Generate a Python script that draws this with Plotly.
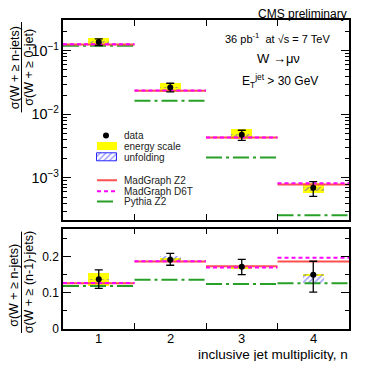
import plotly.graph_objects as go
from plotly.subplots import make_subplots

# inclusive jet multiplicity bins
n_jets = [1, 2, 3, 4]
bin_edges = [1.5, 2.5, 3.5]
x_labels = ["1", "2", "3", "4"]

# sigma(W + >= n jets) / sigma(W + >= 0 jet)
ratio0_data = [0.137, 0.0264, 0.00475, 0.00070]
ratio0_err_up = [0.017, 0.0044, 0.00087, 0.000175]
ratio0_err_dn = [0.016, 0.0038, 0.00087, 0.00019]
ratio0_escale_lo = [0.123, 0.0228, 0.00407, 0.000577]
ratio0_escale_hi = [0.156, 0.0308, 0.00583, 0.000826]
ratio0_unfold_lo = [0.134, 0.0258, 0.00442, 0.000626]
ratio0_unfold_hi = [0.140, 0.0270, 0.00499, 0.000732]
ratio0_mg_z2 = [0.125, 0.0235, 0.00433, 0.000787]
ratio0_mg_d6t = [0.127, 0.0237, 0.00430, 0.000826]
ratio0_pythia_z2 = [0.120, 0.0164, 0.00210, 0.000258]

# sigma(W + >= n jets) / sigma(W + >= (n-1) jets)
ratio1_data = [0.137, 0.191, 0.172, 0.150]
ratio1_err_up = [0.026, 0.018, 0.020, 0.037]
ratio1_err_dn = [0.025, 0.015, 0.022, 0.048]
ratio1_escale_lo = [0.119, 0.187, 0.167, 0.147]
ratio1_escale_hi = [0.155, 0.197, 0.176, 0.153]
ratio1_unfold_lo = [0.135, 0.190, 0.169, 0.128]
ratio1_unfold_hi = [0.139, 0.202, 0.178, 0.152]
ratio1_mg_z2 = [0.126, 0.186, 0.173, 0.186]
ratio1_mg_d6t = [0.127, 0.187, 0.170, 0.197]
ratio1_pythia_z2 = [0.119, 0.136, 0.124, 0.126]

FONT = "Liberation Sans, Arial, Helvetica, sans-serif"
RED = "rgb(255,80,80)"
MAGENTA = "rgb(255,0,255)"
GREEN = "rgb(40,160,40)"
YELLOW = "rgb(255,255,0)"
BLUE = "rgb(40,40,255)"
PYTHIA_DASH = "16px,4px,3px,4px"
D6T_DASH = "4px,3px"

# the page body has an 8px margin, so the figure is shifted by that much
PAGE_OFF = 8
W, H = 371 - 2 * PAGE_OFF, 369 - 2 * PAGE_OFF
# screen pixel geometry of the plotting area (for placing paper-referenced text)
L, R, T, B = 63, 349, 18, 329


def px(x):
    return (x - L) / (R - L)


def py(y):
    return (B - y) / (B - T)


def steps(vals):
    xs, ys = [], []
    for c, v in zip(n_jets, vals):
        xs += [c - 0.5, c + 0.5, None]
        ys += [v, v, None]
    return xs, ys


fig = make_subplots(rows=2, cols=1)


def add_panel(row, data, eu, ed, es_lo, es_hi, un_lo, un_hi, mg, d6t, py8):
    fig.add_trace(go.Bar(x=n_jets, base=es_lo, y=[h - l for l, h in zip(es_lo, es_hi)],
                         width=0.3, marker=dict(color=YELLOW, line=dict(width=0)),
                         showlegend=False), row=row, col=1)
    fig.add_trace(go.Bar(x=n_jets, base=un_lo, y=[h - l for l, h in zip(un_lo, un_hi)],
                         width=0.3,
                         marker=dict(color="rgba(0,0,0,0)", line=dict(width=0),
                                     pattern=dict(shape="/", fgcolor=BLUE, bgcolor="rgba(0,0,0,0)",
                                                  size=4, solidity=0.35)),
                         showlegend=False), row=row, col=1)
    for vals, color, dash in [(py8, GREEN, PYTHIA_DASH), (mg, RED, "solid"), (d6t, MAGENTA, D6T_DASH)]:
        xs, ys = steps(vals)
        fig.add_trace(go.Scatter(x=xs, y=ys, mode="lines", line=dict(color=color, width=2, dash=dash),
                                 showlegend=False, hoverinfo="skip"), row=row, col=1)
    fig.add_trace(go.Scatter(x=n_jets, y=data, mode="markers",
                             marker=dict(color="black", size=6),
                             error_y=dict(type="data", array=eu, arrayminus=ed, color="black",
                                          thickness=1.3, width=4),
                             showlegend=False), row=row, col=1)


add_panel(1, ratio0_data, ratio0_err_up, ratio0_err_dn, ratio0_escale_lo, ratio0_escale_hi,
          ratio0_unfold_lo, ratio0_unfold_hi, ratio0_mg_z2, ratio0_mg_d6t, ratio0_pythia_z2)
add_panel(2, ratio1_data, ratio1_err_up, ratio1_err_dn, ratio1_escale_lo, ratio1_escale_hi,
          ratio1_unfold_lo, ratio1_unfold_hi, ratio1_mg_z2, ratio1_mg_d6t, ratio1_pythia_z2)

# legend drawn on its own hidden axes, in screen pixel units
LX0, LX1, LY0, LY1 = 90, 200, 128, 206
leg_ax = dict(xaxis="x3", yaxis="y3", showlegend=False, hoverinfo="skip")
fig.add_trace(go.Scatter(x=[106], y=[134.3], mode="markers", marker=dict(color="black", size=6), **leg_ax))
fig.add_trace(go.Bar(x=[107], base=[141.5], y=[8], width=[20],
                     marker=dict(color=YELLOW, line=dict(width=0)), **leg_ax))
fig.add_trace(go.Bar(x=[107], base=[152.5], y=[8], width=[20],
                     marker=dict(color="rgba(150,150,255,0.3)", line=dict(width=1, color=BLUE),
                                 pattern=dict(shape="/", fgcolor=BLUE, bgcolor="rgba(0,0,0,0)",
                                              size=4, solidity=0.35)), **leg_ax))
for yy, color, dash in [(179.3, RED, "solid"), (190.3, MAGENTA, D6T_DASH), (200.7, GREEN, PYTHIA_DASH)]:
    fig.add_trace(go.Scatter(x=[97, 117], y=[yy, yy], mode="lines",
                             line=dict(color=color, width=2, dash=dash), **leg_ax))

legend_text = [("data", 134.0), ("energy scale", 145.6), ("unfolding", 156.5),
               ("MadGraph Z2", 179.3), ("MadGraph D6T", 190.3), ("Pythia Z2", 200.7)]

annotations = []
for txt, yy in legend_text:
    annotations.append(dict(x=123, y=yy, xref="x3", yref="y3", text=txt, showarrow=False,
                            xanchor="left", yanchor="middle", borderpad=0,
                            font=dict(size=10, color="#222")))

# category labels under the lower panel
for c, lab in zip(n_jets, x_labels):
    annotations.append(dict(x=c, y=py(339), xref="x2", yref="paper", text=lab, showarrow=False,
                            xanchor="center", yanchor="middle", font=dict(size=13, color="black")))


def ann(x, y, text, size, xanchor="center", angle=0):
    annotations.append(dict(x=px(x), y=py(y), xref="paper", yref="paper", text=text, showarrow=False,
                            xanchor=xanchor, yanchor="middle", textangle=angle, borderpad=0,
                            font=dict(size=size, color="black")))


ann(348, 11.5, "CMS preliminary", 12, xanchor="right")
ann(277.5, 36, "36 pb<sup>-1</sup>  at √s = 7 TeV", 11)
ann(278, 57, "W →μν", 13)
ann(280, 79, "E<sub>T</sub><sup>jet</sup> > 30 GeV", 12)
ann(349, 355, "inclusive jet multiplicity, n", 13.5, xanchor="right")
# y-axis titles as fractions
ann(14.5, 66, "σ(W + ≥ n-jets)", 12.5, angle=-90)
ann(29, 66, "σ(W + ≥ 0-jet)", 12.5, angle=-90)
ann(14.5, 285, "σ(W + ≥ n-jets)", 12.5, angle=-90)
ann(29, 282, "σ(W + ≥ (n-1)-jets)", 12.5, angle=-90)

shapes = [
    dict(type="line", xref="paper", yref="paper", x0=px(21.5), x1=px(21.5), y0=py(20), y1=py(111),
         line=dict(color="black", width=1)),
    dict(type="line", xref="paper", yref="paper", x0=px(21.5), x1=px(21.5), y0=py(231), y1=py(333),
         line=dict(color="black", width=1)),
]

frame = dict(showline=True, linecolor="black", linewidth=1.5, mirror="ticks", showgrid=False,
             zeroline=False, ticks="inside", tickcolor="black", tickwidth=1.2,
             tickfont=dict(size=12, color="black"))

xcommon = dict(frame, range=[0.5, 4.5], tickvals=bin_edges, showticklabels=False, ticklen=6)

fig.update_layout(
    width=W, height=H,
    margin=dict(l=L - PAGE_OFF, r=W - (R - PAGE_OFF), t=T - PAGE_OFF, b=H - (B - PAGE_OFF)),
    paper_bgcolor="white", plot_bgcolor="rgba(0,0,0,0)",
    font=dict(family=FONT, color="black"),
    barmode="overlay", bargap=0,
    xaxis=dict(xcommon, domain=[0, 1], anchor="y"),
    yaxis=dict(frame, type="log", domain=[py(219), 1], range=[-3.658, -0.516], dtick=1,
               exponentformat="power", ticklen=8, tickfont=dict(size=11.5),
               minor=dict(ticks="inside", dtick="D1", ticklen=4, tickcolor="black", showgrid=False)),
    xaxis2=dict(xcommon, domain=[0, 1], anchor="y2", matches="x"),
    yaxis2=dict(frame, domain=[0, py(228)], range=[0, 0.277], tickvals=[0, 0.1, 0.2],
                ticktext=["0", "0.1", "0.2"], ticklen=8,
                minor=dict(ticks="inside", tick0=0, dtick=0.05, ticklen=4, tickcolor="black", showgrid=False)),
    xaxis3=dict(domain=[px(LX0), px(LX1)], range=[LX0, LX1], visible=False, anchor="y3", fixedrange=True),
    yaxis3=dict(domain=[py(LY1), py(LY0)], range=[LY1, LY0], visible=False, anchor="x3", fixedrange=True),
    annotations=annotations,
    shapes=shapes,
)

fig.write_html("out.html")
